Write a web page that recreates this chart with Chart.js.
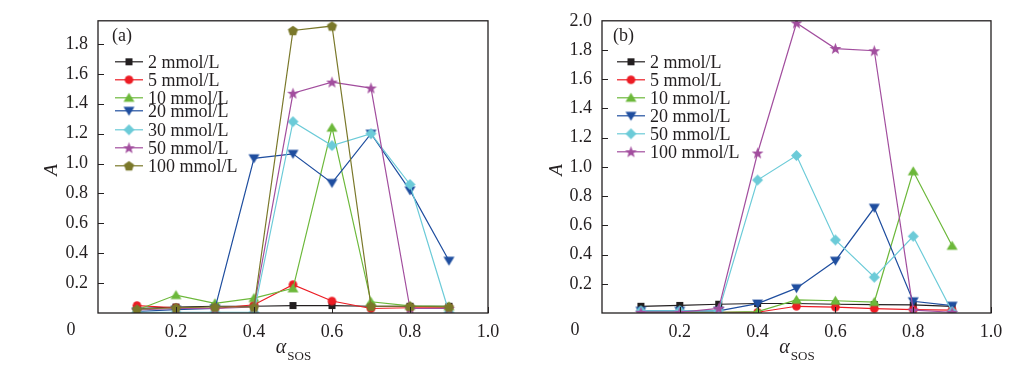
<!DOCTYPE html>
<html>
<head>
<meta charset="utf-8">
<script src="https://cdn.jsdelivr.net/npm/chart.js@4.4.0/dist/chart.umd.min.js"></script>
<style>
  body { margin: 0; background: #fff; }
  .panel { position: absolute; top: 0; }
</style>
</head>
<body>
<div class="panel" style="left:0"><canvas id="chartA" width="510" height="371"></canvas></div>
<div class="panel" style="left:510px"><canvas id="chartB" width="519" height="371"></canvas></div>
<script>
// x values (alpha SOS)
var alphaVals = [0.1, 0.2, 0.3, 0.4, 0.5, 0.6, 0.7, 0.8, 0.9];
var xTicks = [0.2, 0.4, 0.6, 0.8, 1.0];

// panel (a)
var labelsA = ['2 mmol/L', '5 mmol/L', '10 mmol/L', '20 mmol/L', '30 mmol/L', '50 mmol/L', '100 mmol/L'];
var a2   = [0.03, 0.04, 0.045, 0.045, 0.05, 0.05, 0.045, 0.045, 0.045];
var a5   = [0.05, 0.035, 0.03, 0.055, 0.19, 0.08, 0.03, 0.035, 0.035];
var a10  = [0.02, 0.12, 0.065, 0.10, 0.165, 1.24, 0.075, 0.048, 0.045];
var a20  = [0.01, 0.022, 0.03, 1.035, 1.065, 0.87, 1.20, 0.82, 0.35];
var a30  = [0.005, 0.005, 0.005, 0.005, 1.28, 1.12, 1.20, 0.86, 0.005];
var a50  = [0.02, 0.03, 0.03, 0.04, 1.47, 1.545, 1.505, 0.03, 0.03];
var a100 = [0.025, 0.035, 0.04, 0.04, 1.89, 1.92, 0.045, 0.045, 0.04];

// panel (b)
var labelsB = ['2 mmol/L', '5 mmol/L', '10 mmol/L', '20 mmol/L', '50 mmol/L', '100 mmol/L'];
var b2   = [0.046, 0.052, 0.06, 0.065, 0.065, 0.06, 0.058, 0.055, 0.045];
var b5   = [0.01, 0.01, 0.005, 0.005, 0.046, 0.04, 0.03, 0.023, 0.02];
var b10  = [0.005, 0.005, 0.005, 0.01, 0.09, 0.084, 0.075, 0.97, 0.46];
var b20  = [0.015, 0.015, 0.015, 0.064, 0.17, 0.358, 0.72, 0.08, 0.05];
var b50  = [0.015, 0.015, 0.015, 0.91, 1.078, 0.50, 0.245, 0.525, 0.01];
var b100 = [0.005, 0.005, 0.032, 1.095, 1.985, 1.81, 1.795, 0.02, 0.005];

var black = '#231f20', red = '#ec1c24', green = '#6cb83a', blue = '#1f4e9f',
    cyan = '#6ccbd8', purple = '#a24e9e', olive = '#7a782a';

var serif = "'Liberation Serif', 'DejaVu Serif', serif";

// marker images, so the legend can use the same ones
function makeMarker(shape, color) {
  var c = document.createElement('canvas');
  c.width = 13; c.height = 13;
  var g = c.getContext('2d');
  var cx = 6.5, cy = 6.5, i, ang, r;
  g.fillStyle = color;
  g.beginPath();
  if (shape == 'square') {
    g.rect(3, 3, 7, 7);
  } else if (shape == 'circle') {
    g.arc(cx, cy, 4.3, 0, Math.PI * 2);
  } else if (shape == 'up') {
    g.moveTo(cx, 1.5); g.lineTo(12, 10.5); g.lineTo(1, 10.5);
  } else if (shape == 'down') {
    g.moveTo(1, 2.5); g.lineTo(12, 2.5); g.lineTo(cx, 11.5);
  } else if (shape == 'diamond') {
    g.moveTo(cx, 1); g.lineTo(12, cy); g.lineTo(cx, 12); g.lineTo(1, cy);
  } else if (shape == 'star') {
    for (i = 0; i < 10; i++) {
      ang = -Math.PI / 2 + i * Math.PI / 5;
      r = i % 2 ? 2.6 : 6.2;
      g.lineTo(cx + r * Math.cos(ang), cy + 0.5 + r * Math.sin(ang));
    }
  } else if (shape == 'pentagon') {
    for (i = 0; i < 5; i++) {
      ang = -Math.PI / 2 + i * 2 * Math.PI / 5;
      g.lineTo(cx + 5.3 * Math.cos(ang), cy + 0.5 + 5.3 * Math.sin(ang));
    }
  }
  g.closePath();
  g.fill();
  return c;
}

function series(label, vals, color, shape, idx) {
  return {
    label: label,
    data: alphaVals.map(function (x, i) { return { x: x, y: vals[i] }; }),
    borderColor: color,
    backgroundColor: color,
    borderWidth: 1.2,
    pointStyle: makeMarker(shape, color),
    pointRadius: 5,
    pointHoverRadius: 5,
    tension: 0,
    order: -idx
  };
}

var boxPlugin = {
  id: 'box',
  afterDraw: function (chart) {
    var ctx = chart.ctx, ca = chart.chartArea, o = chart.options.plugins.box;
    var xs = chart.scales.x, ys = chart.scales.y;
    ctx.save();
    ctx.strokeStyle = black;
    ctx.lineWidth = 1.3;
    ctx.strokeRect(ca.left, ca.top, ca.right - ca.left, ca.bottom - ca.top);
    // inward ticks
    ctx.lineWidth = 1;
    ctx.beginPath();
    xTicks.forEach(function (v) {
      var px = Math.round(xs.getPixelForValue(v)) + 0.5;
      ctx.moveTo(px, ca.bottom); ctx.lineTo(px, ca.bottom - 6);
    });
    o.yTicks.forEach(function (v) {
      var py = Math.round(ys.getPixelForValue(v)) + 0.5;
      ctx.moveTo(ca.left, py); ctx.lineTo(ca.left + 6, py);
    });
    ctx.stroke();

    ctx.fillStyle = black;
    // origin label
    ctx.font = '18px ' + serif;
    ctx.textAlign = 'center';
    ctx.textBaseline = 'middle';
    ctx.fillText('0', ca.left - 27, 330);
    // panel tag
    ctx.textAlign = 'left';
    ctx.fillText(o.tag, ca.left + o.tagX, ca.top + 15);

    // y title
    ctx.save();
    ctx.translate(o.yTitleX, (ca.top + ca.bottom) / 2 + 3);
    ctx.rotate(-Math.PI / 2);
    ctx.font = 'italic 19px ' + serif;
    ctx.textAlign = 'center';
    ctx.fillText('A', 0, 0);
    ctx.restore();

    // x title: alpha with subscript
    var cx = (ca.left + ca.right) / 2;
    ctx.textBaseline = 'alphabetic';
    ctx.font = 'italic 20px ' + serif;
    var wa = ctx.measureText('α').width;
    ctx.font = '13px ' + serif;
    var ws = ctx.measureText('SOS').width;
    var x0 = cx - (wa + ws) / 2;
    ctx.font = 'italic 20px ' + serif;
    ctx.fillText('α', x0, 353);
    ctx.font = '13px ' + serif;
    ctx.fillText('SOS', x0 + wa + 1, 360);

    // legend
    ctx.font = '18px ' + serif;
    ctx.textBaseline = 'middle';
    chart.data.datasets.forEach(function (ds, i) {
      var y = ca.top + o.legendRows[i];
      var lx = ca.left + o.legendX;
      ctx.strokeStyle = ds.borderColor;
      ctx.lineWidth = 1.2;
      ctx.beginPath();
      ctx.moveTo(lx, y); ctx.lineTo(lx + 28, y);
      ctx.stroke();
      ctx.drawImage(ds.pointStyle, lx + 14 - 6.5, y - 6.5);
      ctx.fillStyle = black;
      ctx.fillText(ds.label, lx + 33, y + 1);
    });
    ctx.restore();
  }
};

function makeChart(id, datasets, yMax, yTicks, rightPad, yWidth, extra) {
  var opts = {
    responsive: false,
    animation: false,
    layout: { padding: { left: 0, right: rightPad, top: 20, bottom: 0 } },
    plugins: {
      legend: { display: false },
      tooltip: { enabled: false },
      box: Object.assign({ yTicks: yTicks }, extra)
    },
    scales: {
      x: {
        type: 'linear', min: 0, max: 1.0,
        grid: { display: false, drawTicks: false },
        border: { display: false },
        afterFit: function (s) { s.height = 58; },
        ticks: {
          stepSize: 0.2, padding: 8, color: black,
          font: { family: serif, size: 18 },
          maxRotation: 0,
          callback: function (v) { return v === 0 ? '' : v.toFixed(1); }
        }
      },
      y: {
        type: 'linear', min: 0, max: yMax,
        grid: { display: false, drawTicks: false },
        border: { display: false },
        afterFit: function (s) { s.width = yWidth; },
        ticks: {
          stepSize: 0.2, padding: 10, color: black, includeBounds: false,
          font: { family: serif, size: 18 },
          callback: function (v) { return v === 0 ? '' : v.toFixed(1); }
        }
      }
    }
  };
  return new Chart(document.getElementById(id), {
    type: 'line',
    data: { datasets: datasets },
    options: opts,
    plugins: [boxPlugin]
  });
}

var setA = [
  series(labelsA[0], a2, black, 'square', 0),
  series(labelsA[1], a5, red, 'circle', 1),
  series(labelsA[2], a10, green, 'up', 2),
  series(labelsA[3], a20, blue, 'down', 3),
  series(labelsA[4], a30, cyan, 'diamond', 4),
  series(labelsA[5], a50, purple, 'star', 5),
  series(labelsA[6], a100, olive, 'pentagon', 6)
];
var setB = [
  series(labelsB[0], b2, black, 'square', 0),
  series(labelsB[1], b5, red, 'circle', 1),
  series(labelsB[2], b10, green, 'up', 2),
  series(labelsB[3], b20, blue, 'down', 3),
  series(labelsB[4], b50, cyan, 'diamond', 4),
  series(labelsB[5], b100, purple, 'star', 5)
];

makeChart('chartA', setA, 1.955, [0.2, 0.4, 0.6, 0.8, 1.0, 1.2, 1.4, 1.6, 1.8], 22, 98,
  { tag: '(a)', tagX: 14, yTitleX: 52, legendX: 17, legendRows: [41, 59, 77, 90, 109, 127, 145] });
makeChart('chartB', setB, 2.0, [0.2, 0.4, 0.6, 0.8, 1.0, 1.2, 1.4, 1.6, 1.8], 38, 92,
  { tag: '(b)', tagX: 11, yTitleX: 47, legendX: 15, legendRows: [41, 59, 77, 95, 113, 131] });
</script>
</body>
</html>
